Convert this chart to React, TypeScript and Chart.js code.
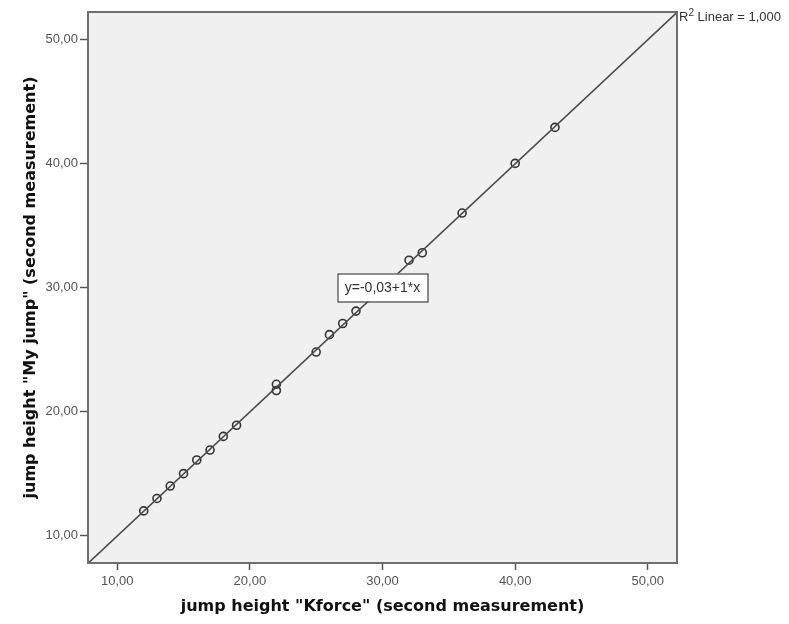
import React, { useEffect, useRef } from "react";
import { Chart, registerables } from "chart.js";

Chart.register(...registerables);

const kforce = [12, 13, 14, 15, 16, 17, 18, 19, 22, 22, 25, 26, 27, 28, 32, 33, 36, 40, 43];
const myJump = [12, 13, 14, 15, 16.1, 16.9, 18, 18.9, 22.2, 21.7, 24.8, 26.2, 27.1, 28.1, 32.2, 32.8, 36, 40, 42.9];
const tickValues = [10, 20, 30, 40, 50];
const axisMin = 7.8;
const axisMax = 52.2;
const intercept = -0.03;
const slope = 1;
const equationLabel = "y=-0,03+1*x";
const r2Label = "Linear = 1,000";
const xTitle = 'jump height "Kforce" (second measurement)';
const yTitle = 'jump height "My jump" (second measurement)';

const fmt = (v: number) => v.toFixed(2).replace(".", ",");

const framePlugin = {
  id: "frame",
  beforeDraw(chart: any) {
    const { ctx, chartArea } = chart;
    ctx.save();
    ctx.fillStyle = "#f0f0f0";
    ctx.fillRect(chartArea.left, chartArea.top, chartArea.right - chartArea.left, chartArea.bottom - chartArea.top);
    ctx.restore();
  },
  afterDraw(chart: any) {
    const { ctx, chartArea, scales } = chart;
    ctx.save();
    ctx.strokeStyle = "#6e6e6e";
    ctx.lineWidth = 2;
    ctx.strokeRect(chartArea.left, chartArea.top, chartArea.right - chartArea.left, chartArea.bottom - chartArea.top);
    // equation box
    const cx = scales.x.getPixelForValue(30);
    const cy = scales.y.getPixelForValue(30);
    const w = 90, h = 28;
    ctx.fillStyle = "#ffffff";
    ctx.fillRect(cx - w / 2, cy - h / 2, w, h);
    ctx.strokeStyle = "#444";
    ctx.lineWidth = 1.2;
    ctx.strokeRect(cx - w / 2 + 0.5, cy - h / 2 + 0.5, w, h);
    ctx.fillStyle = "#333";
    ctx.font = "14px 'Liberation Sans', Arial, sans-serif";
    ctx.textAlign = "center";
    ctx.textBaseline = "middle";
    ctx.fillText(equationLabel, cx, cy + 1);
    // R2 label
    const rx = chartArea.right + 2;
    const ry = chartArea.top + 5;
    ctx.textAlign = "left";
    ctx.font = "13px 'Liberation Sans', Arial, sans-serif";
    ctx.fillText("R", rx, ry);
    const rw = ctx.measureText("R").width;
    ctx.font = "10px 'Liberation Sans', Arial, sans-serif";
    ctx.fillText("2", rx + rw, ry - 4);
    const sw = ctx.measureText("2").width;
    ctx.font = "13px 'Liberation Sans', Arial, sans-serif";
    ctx.fillText(" " + r2Label, rx + rw + sw, ry);
    ctx.restore();
  },
};

export default function App() {
  const ref = useRef<HTMLCanvasElement>(null);
  useEffect(() => {
    if (!ref.current) return;
    const points = kforce.map((x, i) => ({ x, y: myJump[i] }));
    const fit = [
      { x: axisMin, y: intercept + slope * axisMin },
      { x: axisMax, y: intercept + slope * axisMax },
    ];
    const tickFont = { family: "'Liberation Sans', Arial, sans-serif", size: 13 };
    const titleFont = { family: "'DejaVu Sans', Verdana, sans-serif", size: 16, weight: "bold" as const };
    const chart = new Chart(ref.current, {
      type: "scatter",
      data: {
        datasets: [
          {
            type: "line",
            data: fit,
            borderColor: "#4a4a4a",
            borderWidth: 1.5,
            pointRadius: 0,
            fill: false,
          } as any,
          {
            data: points,
            pointRadius: 4,
            pointBorderWidth: 1.6,
            pointBorderColor: "#333",
            pointBackgroundColor: "rgba(0,0,0,0)",
          },
        ],
      },
      options: {
        animation: false,
        responsive: false,
        maintainAspectRatio: false,
        events: [],
        layout: { padding: { left: 0, top: 12, right: 112, bottom: 0 } },
        plugins: { legend: { display: false }, tooltip: { enabled: false } },
        scales: {
          x: {
            type: "linear",
            min: axisMin,
            max: axisMax,
            afterBuildTicks: (s: any) => {
              s.ticks = tickValues.map((v) => ({ value: v }));
            },
            afterFit: (s: any) => {
              s.height = 61;
            },
            ticks: { callback: (v: any) => fmt(Number(v)), font: tickFont, color: "#555", padding: 4, maxRotation: 0 },
            grid: { drawOnChartArea: false, drawTicks: true, tickLength: 7, color: "#555", tickWidth: 1.5 },
            border: { display: false },
            title: { display: true, text: xTitle, font: titleFont, color: "#111", padding: { top: 0, bottom: 8 } },
          },
          y: {
            type: "linear",
            min: axisMin,
            max: axisMax,
            afterBuildTicks: (s: any) => {
              s.ticks = tickValues.map((v) => ({ value: v }));
            },
            afterFit: (s: any) => {
              s.width = 88;
            },
            ticks: { callback: (v: any) => fmt(Number(v)), font: tickFont, color: "#555", padding: 2 },
            grid: { drawOnChartArea: false, drawTicks: true, tickLength: 8, color: "#555", tickWidth: 1.5 },
            border: { display: false },
            title: { display: true, text: yTitle, font: titleFont, color: "#111", padding: { top: 21, bottom: 0 } },
          },
        },
      },
      plugins: [framePlugin],
    });
    return () => chart.destroy();
  }, []);
  return (
    <div style={{ position: "absolute", left: 0, top: 0, width: 789, height: 624, background: "#fff" }}>
      <canvas ref={ref} width={789} height={624} style={{ width: 789, height: 624 }} />
    </div>
  );
}
